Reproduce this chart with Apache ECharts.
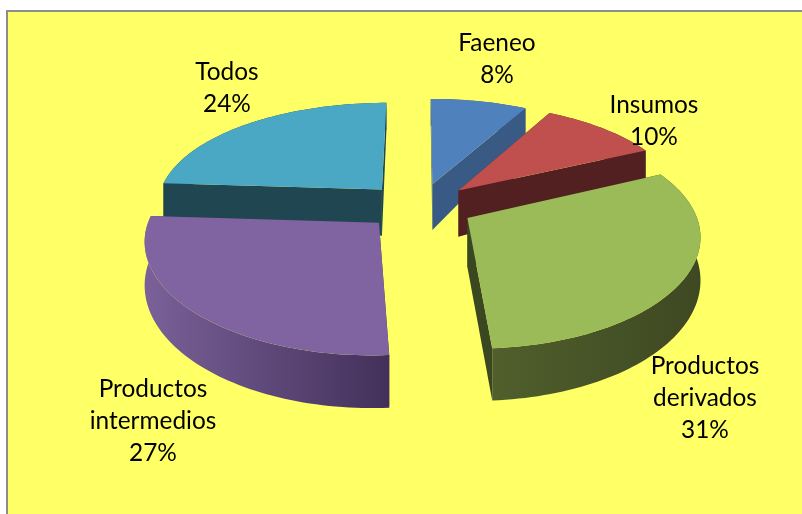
<!DOCTYPE html>
<html><head><meta charset="utf-8">
<style>html,body{margin:0;padding:0;background:#fff}#c{width:802px;height:514px}</style>
<script src="https://cdn.jsdelivr.net/npm/echarts@6/dist/echarts.min.js"></script>
</head><body><div id="c"></div>
<script>
// Data
var categories = ['Faeneo','Insumos','Productos derivados','Productos intermedios','Todos'];
var labelLines = ['Faeneo','Insumos','Productos\nderivados','Productos\nintermedios','Todos'];
var values = [8,10,31,27,24];
// Styling / layout (separate from data)
var topColors  = ['#4f81bd','#c0504d','#9bbb59','#8064a2','#4aa8c4'];
var cutColors  = ['#385a85','#522021','#3a4720','#46345f','#1f4651'];
var wallStops  = [['#385a85','#385a85'],['#522021','#522021'],['#505f2c','#3e4822'],['#7a6199','#43305a'],['#1f4651','#1f4651']];
var labelPos   = [[497,59],[654,121],[705,398],[153,421],[227,88]];
var paintOrder = [4,0,1,3,2];
var G = {cx:419, cy:206, rx:226, ry:105.4, kx:0.14, ky:0.16, ex:0.245, ey:0.22, apexExtra:8};

var total = values.reduce(function(a,b){return a+b;},0);
var starts = []; (function(){var s=0;values.forEach(function(v){starts.push(s);s+=v;});})();

function proj(u,v){
  return [G.cx+G.rx*u/(1+G.kx*v), G.cy-G.ry*v/(1+G.ky*v)];
}
function depth(v){ return 40-11*v; }

function renderSlice(params, api){
  var idx = api.value(0), val = api.value(1), st = api.value(2);
  var a0 = st/total*2*Math.PI, a1 = (st+val)/total*2*Math.PI, mid=(a0+a1)/2;
  var ou = G.ex*Math.sin(mid), ov = G.ey*Math.cos(mid);
  var n = Math.max(8, Math.round((a1-a0)*40));
  var top=[], bottom=[], i;
  for(i=0;i<=n;i++){
    var a=a0+(a1-a0)*i/n, u=ou+Math.sin(a), v=ov+Math.cos(a), p=proj(u,v);
    top.push(p); bottom.push([p[0],p[1]+depth(v)]);
  }
  var apex=proj(ou,ov), apexB=[apex[0],apex[1]+depth(ov)+G.apexExtra];
  var kids=[];
  function poly(pts,fill){ kids.push({type:'polygon',shape:{points:pts},style:{fill:fill}}); }
  poly([apex,top[0],bottom[0],apexB],cutColors[idx]);
  poly([apex,top[n],bottom[n],apexB],cutColors[idx]);
  poly(top.concat(bottom.slice().reverse()),{type:'linear',x:0,y:0,x2:1,y2:0,colorStops:[{offset:0,color:wallStops[idx][0]},{offset:1,color:wallStops[idx][1]}]});
  poly([apex].concat(top),topColors[idx]);
  return {type:'group',children:kids};
}

var sliceData = paintOrder.map(function(i){ return {name:categories[i],value:[i,values[i],starts[i]]}; });

var chart = echarts.init(document.getElementById('c'),null,{renderer:'canvas'});
chart.setOption({
  animation:false,
  backgroundColor:'#ffffff',
  graphic:[
    {type:'rect',z:0,shape:{x:7,y:11,width:900,height:600},style:{fill:'#ffff66',stroke:'#8c8c8c',lineWidth:2}}
  ].concat(labelLines.map(function(t,i){
    return {type:'text',z:10,x:labelPos[i][0],y:labelPos[i][1],
      style:{text:t+'\n'+values[i]+'%',fill:'#000',font:'24.4px Lato, "Open Sans", sans-serif',align:'center',verticalAlign:'middle',lineHeight:32}};
  })),
  series:[{type:'custom',coordinateSystem:'none',renderItem:renderSlice,data:sliceData,z:2,silent:true}]
});
</script></body></html>
